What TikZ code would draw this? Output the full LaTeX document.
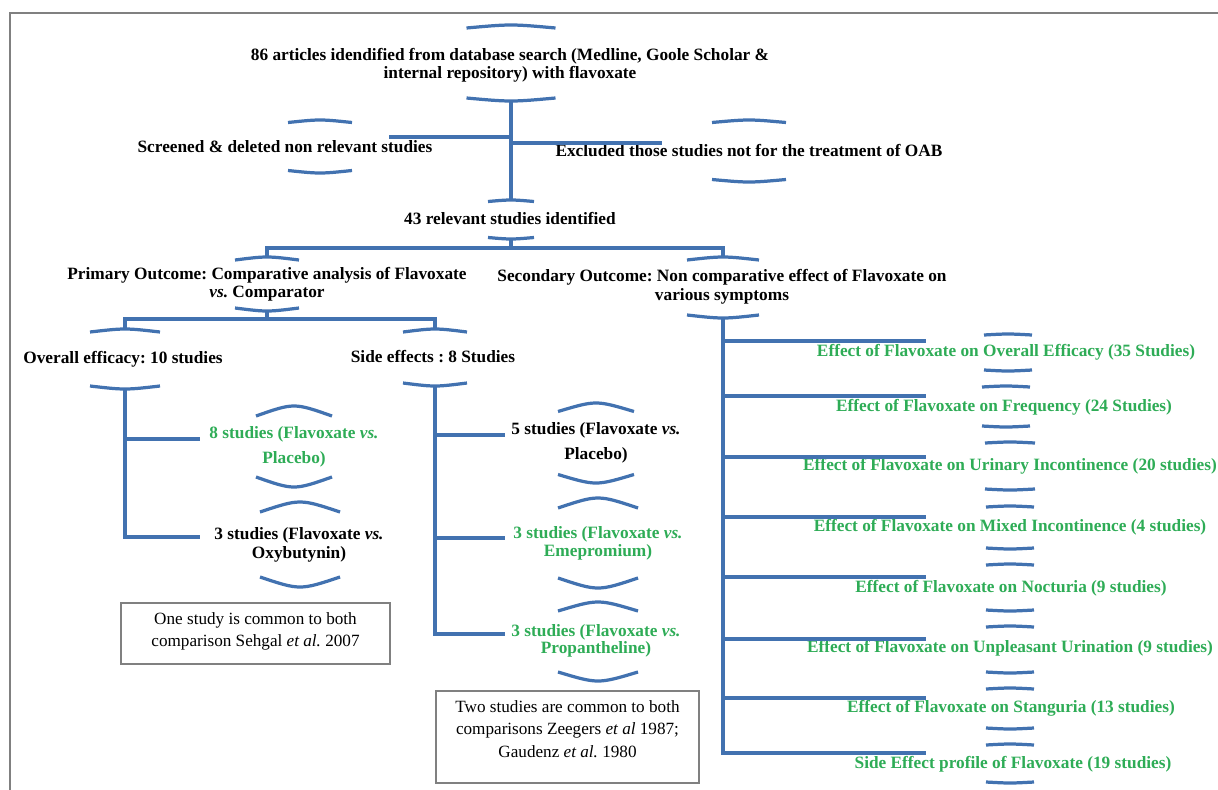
\documentclass[tikz,border=0pt]{standalone}
\usepackage{fontspec}
\setmainfont{Liberation Serif}
\usetikzlibrary{calc}

\definecolor{lineblue}{RGB}{66,114,176}
\definecolor{textgreen}{RGB}{46,172,86}
\definecolor{framegray}{RGB}{128,128,128}

\def\brackets#1#2#3#4#5{ % #1 Name, #2 Center, #3 Half width, #4 Half height, #5 Bend
    \coordinate (#1-t) at ($#2+(0,-#4)$);
    \coordinate (#1-b) at ($#2+(0,#4)$);
    \draw[brk] ($(#1-t)+(-#3,#5)$) .. controls ($(#1-t)+(0,-#5/3)$) .. ($(#1-t)+(#3,#5)$);
    \draw[brk] ($(#1-b)+(-#3,-#5)$) .. controls ($(#1-b)+(0,#5/3)$) .. ($(#1-b)+(#3,-#5)$);
}
\def\notetext#1#2#3{ % #1 Width, #2 Height, #3 Text
    \parbox[c][#2][t]{#1}{\centering\vspace*{6.5pt}#3}
}

\begin{document}
\frenchspacing
\begin{tikzpicture}[x=0.025cm, y=-0.025cm,
        link/.style={draw=lineblue, line width=2.5pt},
        brk/.style={draw=lineblue, line width=2.3pt},
        lbl/.style={font=\bfseries\fontsize{12.3}{#1}\selectfont, align=center, inner sep=0pt},
        lbl/.default=12.8,
        grn/.style={lbl=#1, text=textgreen},
        grn/.default=12.8,
        note/.style={draw=framegray, line width=0.8pt, font=\fontsize{12.2}{16.3}\selectfont, inner sep=0pt}]
        \useasboundingbox (0,0) rectangle (1218,790);
        \draw[framegray, line width=1pt] (10,790) |- (1218,13); %rahmen

        % --------------------------------------------------

        \node[lbl] (top) at (510,65) {86 articles idendified from database search (Medline, Goole Scholar \&\\internal repository) with flavoxate};
        \brackets{top}{(511,63)}{44.5}{38}{3}
        \node[lbl] (scr) at (285,147) {Screened \& deleted non relevant studies};
        \brackets{scr}{(320,146.5)}{32}{26.5}{2.5}
        \node[lbl] (exc) at (749,151) {Excluded those studies not for the treatment of OAB};
        \brackets{exc}{(749,151)}{37}{31}{2.5}
        \node[lbl] (n43) at (510,219) {43 relevant studies identified};
        \brackets{n43}{(511,219.5)}{23}{19.5}{1.5}
        \coordinate (scr-in) at (389,137);
        \coordinate (exc-in) at (662,143);
        \draw[link] (top-b) -- (n43-t);
        \draw[link] (top-b) |- (scr-in);
        \draw[link] (top-b) |- (exc-in);

        % --------------------------------------------------

        \node[lbl] (pri) at (267,284) {Primary Outcome: Comparative analysis of Flavoxate\\\textit{vs.} Comparator};
        \brackets{pri}{(267,284)}{32}{27}{3}
        \node[lbl=13.5] (sec) at (722,287) {Secondary Outcome: Non comparative effect of Flavoxate on\\various symptoms};
        \brackets{sec}{(723,287.5)}{36}{30.5}{3}
        \draw[link] (n43-b) -- ++(0,9) -| (pri-t);
        \draw[link] (n43-b) -- ++(0,9) -| (sec-t);

        \node[lbl] (ovr) at (123,359) {Overall efficacy: 10 studies};
        \brackets{ovr}{(125,359)}{35}{30}{3}
        \node[lbl] (side) at (433,357) {Side effects : 8 Studies};
        \brackets{side}{(435,357.5)}{32}{28.5}{3}
        \draw[link] (pri-b) -- ++(0,8) -| (ovr-t);
        \draw[link] (pri-b) -- ++(0,8) -| (side-t);

        % --------------------------------------------------

        \node[grn=17.7] (p8) at (294,447) {8 studies (Flavoxate \textit{vs.}\\Placebo)};
        \brackets{p8}{(294,446.5)}{38}{40.5}{10}
        \node[lbl=13.5] (oxy) at (299,545) {3 studies (Flavoxate \textit{vs.}\\Oxybutynin)};
        \brackets{oxy}{(300,544.5)}{40}{42.5}{10}
        \coordinate (o1) at (200,439);
        \coordinate (o2) at (200,537);
        \draw[link] (ovr-b) |- (o1);
        \draw[link] (ovr-b) |- (o2);
        \node[note] (note1) at (255.5,633.5) {\notetext{6.725cm}{1.525cm}{One study is common to both\\comparison Sehgal \textit{et al.} 2007}};

        \node[lbl=17.7] (p5) at (596,443) {5 studies (Flavoxate \textit{vs.}\\Placebo)};
        \brackets{p5}{(596,443)}{38}{40}{8.5}
        \node[grn] (eme) at (598,543) {3 studies (Flavoxate \textit{vs.}\\Emepromium)};
        \brackets{eme}{(598,543)}{40}{45}{10}
        \node[grn=12] (pro) at (596,641) {3 studies (Flavoxate \textit{vs.}\\Propantheline)};
        \brackets{pro}{(598,641.5)}{40}{39.5}{9}
        \coordinate (s1) at (505,435);
        \coordinate (s2) at (505,538);
        \coordinate (s3) at (505,634);
        \draw[link] (side-b) |- (s1);
        \draw[link] (side-b) |- (s2);
        \draw[link] (side-b) |- (s3);
        \node[note] (note2) at (567.5,737) {\notetext{6.575cm}{2.3cm}{Two studies are common to both\\comparisons Zeegers \textit{et al} 1987;\\Gaudenz \textit{et al.} 1980}};

        % --------------------------------------------------

        \node[grn] (e1) at (1006,352) {Effect of Flavoxate on Overall Efficacy (35 Studies)};
        \brackets{e1}{(1008,352.5)}{24}{18.5}{1}
        \node[grn] (e2) at (1004,407) {Effect of Flavoxate on Frequency (24 Studies)};
        \brackets{e2}{(1006,406.5)}{24}{20.5}{1}
        \node[grn] (e3) at (1010,466) {Effect of Flavoxate on Urinary Incontinence (20 studies)};
        \brackets{e3}{(1010,466)}{25}{24}{1}
        \node[grn] (e4) at (1010,527) {Effect of Flavoxate on Mixed Incontinence (4 studies)};
        \brackets{e4}{(1010,527.5)}{24}{21.5}{1}
        \node[grn] (e5) at (1011,588) {Effect of Flavoxate on Nocturia (9 studies)};
        \brackets{e5}{(1010,587.5)}{24}{23.5}{1}
        \node[grn] (e6) at (1010,648) {Effect of Flavoxate on Unpleasant Urination (9 studies)};
        \brackets{e6}{(1010,649.5)}{24}{23.5}{1}
        \node[grn] (e7) at (1011,708) {Effect of Flavoxate on Stanguria (13 studies)};
        \brackets{e7}{(1010,708.5)}{24}{20.5}{1}
        \node[grn] (e8) at (1013,764) {Side Effect profile of Flavoxate (19 studies)};
        \brackets{e8}{(1010,763.5)}{24}{19.5}{1}
        \coordinate (r1) at (926,341);
        \coordinate (r2) at (926,396);
        \coordinate (r3) at (926,457);
        \coordinate (r4) at (926,517);
        \coordinate (r5) at (926,577);
        \coordinate (r6) at (926,639);
        \coordinate (r7) at (926,698);
        \coordinate (r8) at (926,753);
        \draw[link] (sec-b) |- (r1);
        \draw[link] (sec-b) |- (r2);
        \draw[link] (sec-b) |- (r3);
        \draw[link] (sec-b) |- (r4);
        \draw[link] (sec-b) |- (r5);
        \draw[link] (sec-b) |- (r6);
        \draw[link] (sec-b) |- (r7);
        \draw[link] (sec-b) |- (r8);
\end{tikzpicture}
\end{document}
